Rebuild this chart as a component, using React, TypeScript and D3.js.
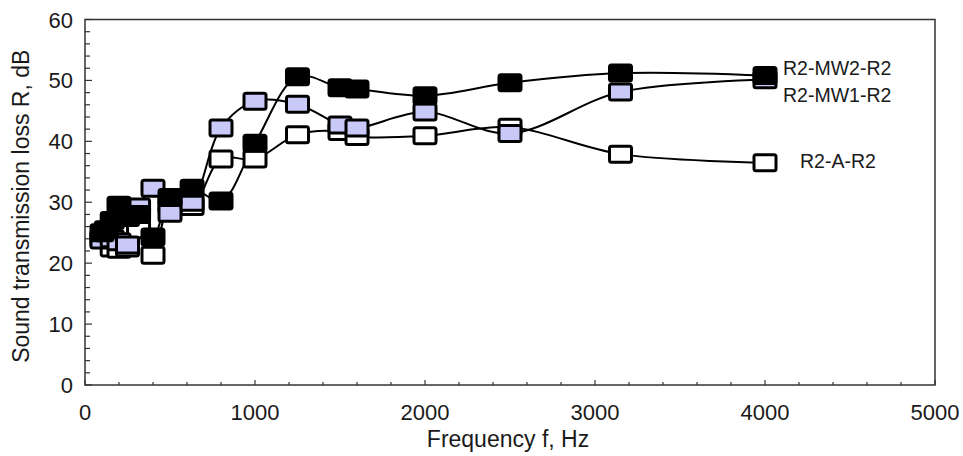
import React from "react";
import * as d3 from "d3";

const frequencies = [100, 125, 160, 200, 250, 315, 400, 500, 630, 800, 1000, 1250, 1500, 1600, 2000, 2500, 3150, 4000];
const seriesNames = ["R2-A-R2", "R2-MW1-R2", "R2-MW2-R2"];
const valuesA = [24, 24.5, 22.5, 22.3, 22.5, 25.5, 21.3, 29.5, 29.3, 37.1, 37.1, 41.1, 41.6, 40.8, 40.9, 42.3, 37.9, 36.5];
const valuesMW1 = [23.8, 25, 24, 23.5, 23, 29.2, 32.3, 28.2, 30, 42.2, 46.6, 46.1, 42.7, 42.2, 44.8, 41.3, 48.1, 50.1];
const valuesMW2 = [25, 25.5, 27, 29.5, 27.5, 28, 24.3, 30.8, 32.3, 30.2, 39.7, 50.6, 48.8, 48.6, 47.5, 49.6, 51.2, 50.8];
const xTicks = [0, 1000, 2000, 3000, 4000, 5000];
const yTicks = [0, 10, 20, 30, 40, 50, 60];

const W = 963;
const H = 456;
const left = 85;
const right = 935;
const top = 19.5;
const bottom = 385;

export default function App() {
  const x = d3.scaleLinear().domain([0, 5000]).range([left, right]);
  const y = d3.scaleLinear().domain([0, 60]).range([bottom, top]);
  const line = d3
    .line<[number, number]>()
    .x((d) => x(d[0]))
    .y((d) => y(d[1]))
    .curve(d3.curveCatmullRom.alpha(0.5));

  const series = [
    { name: seriesNames[0], values: valuesA, fill: "#ffffff" },
    { name: seriesNames[1], values: valuesMW1, fill: "#c9c9f7" },
    { name: seriesNames[2], values: valuesMW2, fill: "#000000" },
  ];

  const xMinor = d3.range(0, 5001, 200);
  const yMinor = d3.range(0, 61, 2);
  const font = "'Liberation Sans', Arial, sans-serif";
  const mw = 22;
  const mh = 16;
  const textColor = "#1a1a1a";

  return (
    <svg
      width={W}
      height={H}
      style={{ position: "absolute", left: 0, top: 0, background: "#fff" }}
      fontFamily={font}
    >
      <rect x={0} y={0} width={W} height={H} fill="#fff" />
      <rect x={left} y={top} width={right - left} height={bottom - top} fill="none" stroke="#333" strokeWidth={1.5} />
      {yMinor.map((v) => (
        <line
          key={"ym" + v}
          x1={left}
          x2={left + (v % 10 === 0 ? 7 : 5)}
          y1={y(v)}
          y2={y(v)}
          stroke="#333"
          strokeWidth={1.2}
        />
      ))}
      {xMinor.map((v) => (
        <line
          key={"xm" + v}
          x1={x(v)}
          x2={x(v)}
          y1={bottom}
          y2={bottom - (v % 1000 === 0 ? 5 : 3)}
          stroke="#333"
          strokeWidth={1.2}
        />
      ))}
      {yTicks.map((v) => (
        <text key={"yl" + v} x={73} y={y(v) + 8} fontSize={22} textAnchor="end" fill={textColor}>
          {v}
        </text>
      ))}
      {xTicks.map((v) => (
        <text key={"xl" + v} x={x(v)} y={420} fontSize={22} textAnchor="middle" fill={textColor}>
          {v}
        </text>
      ))}
      <text x={508} y={447} fontSize={23} textAnchor="middle" fill={textColor}>
        Frequency f, Hz
      </text>
      <text
        transform={`translate(29, ${(top + bottom) / 2 + 4}) rotate(-90)`}
        fontSize={23}
        textAnchor="middle"
        fill={textColor}
      >
        Sound transmission loss R, dB
      </text>
      {series.map((s) => (
        <path
          key={"l" + s.name}
          d={line(frequencies.map((f, i) => [f, s.values[i]] as [number, number])) || ""}
          fill="none"
          stroke="#000"
          strokeWidth={2}
        />
      ))}
      {series.map((s) => (
        <g key={"m" + s.name}>
          {frequencies.map((f, i) => (
            <rect
              key={f}
              x={x(f) - mw / 2}
              y={y(s.values[i]) - mh / 2}
              width={mw}
              height={mh}
              rx={2}
              fill={s.fill}
              stroke="#000"
              strokeWidth={3}
            />
          ))}
        </g>
      ))}
      <text x={783} y={75} fontSize={19.5} fill={textColor}>{seriesNames[2]}</text>
      <text x={783} y={102} fontSize={19.5} fill={textColor}>{seriesNames[1]}</text>
      <text x={800} y={168} fontSize={19.5} fill={textColor}>{seriesNames[0]}</text>
    </svg>
  );
}
